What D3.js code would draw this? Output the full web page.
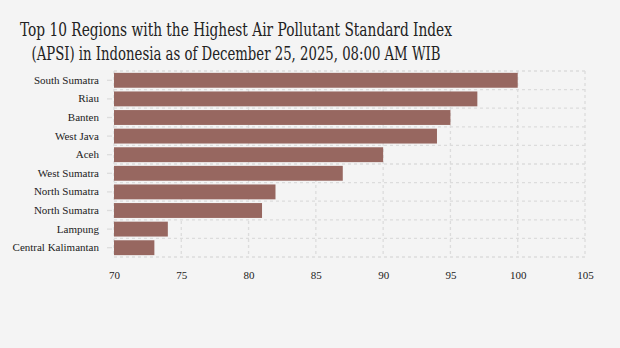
<!DOCTYPE html>
<html><head><meta charset="utf-8">
<script src="https://cdn.jsdelivr.net/npm/d3@7"></script>
<style>body{margin:0;background:#f4f4f4;}svg{display:block;}</style>
</head><body><svg id="c" width="620" height="348"></svg>
<script>
const regions = ["South Sumatra","Riau","Banten","West Java","Aceh","West Sumatra","North Sumatra","North Sumatra ","Lampung","Central Kalimantan"];
const apsi = [100,97,95,94,90,87,82,81,74,73];
const xTicks = [70,75,80,85,90,95,100,105];
const titleLines = ["Top 10 Regions with the Highest Air Pollutant Standard Index","(APSI) in Indonesia as of December 25, 2025, 08:00 AM WIB"];

const svg = d3.select("#c");
svg.append("rect").attr("width",620).attr("height",348).attr("fill","#f4f4f4");
const m = {left:114, right:35, top:71, bottom:91};
const W = 620, H = 348;
const x = d3.scaleLinear().domain([70,105]).range([m.left, W-m.right]);
const y = d3.scaleBand().domain(regions).range([m.top, H-m.bottom]).paddingInner(0.2).paddingOuter(0.1);

// grid
const g = svg.append("g");
g.selectAll(".vg").data(xTicks).join("line")
 .attr("x1",d=>x(d)).attr("x2",d=>x(d)).attr("y1",m.top).attr("y2",H-m.bottom)
 .attr("stroke","#dcdcdc").attr("stroke-width",1.3).attr("stroke-dasharray","3,3");
const step = y.step();
const hl = d3.range(regions.length+1).map(i=>m.top + i*(H-m.top-m.bottom)/regions.length);
g.selectAll(".hg").data(hl).join("line")
 .attr("x1",m.left).attr("x2",W-m.right).attr("y1",d=>d).attr("y2",d=>d)
 .attr("stroke","#dcdcdc").attr("stroke-width",1.3).attr("stroke-dasharray","3,3");

// bars
svg.append("g").selectAll("rect").data(regions).join("rect")
 .attr("x",x(70)).attr("y",d=>y(d)).attr("height",y.bandwidth())
 .attr("width",(d,i)=>x(apsi[i])-x(70)).attr("fill","#976760");

// y axis
const ya = svg.append("g").attr("transform",`translate(${m.left-2},0)`).call(d3.axisLeft(y).tickSize(5).tickPadding(8).tickFormat(d=>d.trim()));
ya.select(".domain").remove();
ya.selectAll(".tick line").attr("stroke","#dcdcdc").attr("stroke-width",1.3);
ya.selectAll("text").attr("font-family","Liberation Serif").attr("font-size",11).attr("fill","#222");

// x axis
const xa = svg.append("g").attr("transform",`translate(0,${H-m.bottom})`).call(d3.axisBottom(x).tickValues(xTicks).tickSize(0).tickPadding(14));
xa.select(".domain").remove();
xa.selectAll("text").attr("font-family","Liberation Serif").attr("font-size",11).attr("fill","#222");

// title
const t = svg.append("text").attr("text-anchor","middle").attr("font-family","DejaVu Serif").attr("font-size",18).attr("fill","#222");
titleLines.forEach((l,i)=>{
  t.append("tspan").attr("x",236).attr("y",36+i*24).text(l);
});
const widths=[432,409];
t.selectAll("tspan").each(function(d,i){const w=this.getComputedTextLength(); if(Math.abs(w-widths[i])>3){d3.select(this).attr("textLength",widths[i]).attr("lengthAdjust","spacingAndGlyphs");}});
</script></body></html>
